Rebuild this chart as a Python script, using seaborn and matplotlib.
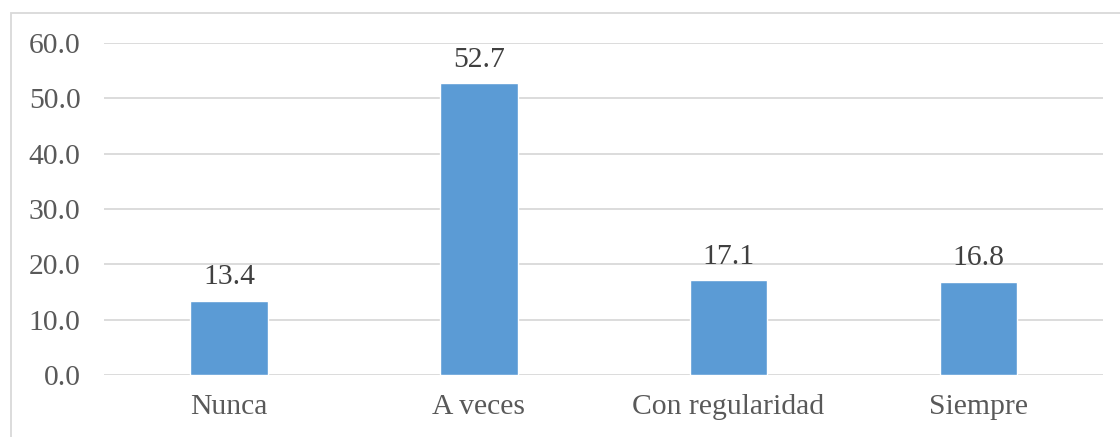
import matplotlib
matplotlib.use("Agg")
import matplotlib.pyplot as plt
import seaborn as sns
import pandas as pd
from matplotlib.patches import Rectangle

categories = ["Nunca", "A veces", "Con regularidad", "Siempre"]
values = [13.4, 52.7, 17.1, 16.8]

df = pd.DataFrame({"cat": categories, "val": values})

sns.set_style("white")
plt.rcParams["font.family"] = ["Liberation Serif", "DejaVu Serif"]

fig = plt.figure(figsize=(11.2, 4.37), dpi=100)
ax = fig.add_axes([0.093, 0.142, 0.892, 0.76])

sns.barplot(data=df, x="cat", y="val", color="#5B9BD5", width=0.31,
            saturation=1, ax=ax, zorder=3)

ax.set_ylim(0, 60)
ax.set_yticks(range(0, 61, 10))
ax.set_yticklabels([f"{v:.1f}" for v in range(0, 61, 10)])
ax.set_xlim(-0.5, 3.5)
ax.grid(axis="y", color="#D9D9D9", linewidth=1.3, zorder=0)
for s in ax.spines.values():
    s.set_visible(False)
ax.tick_params(axis="both", length=0, labelsize=21.3, colors="#595959")
ax.tick_params(axis="y", pad=17)
ax.tick_params(axis="x", pad=14)
ax.set_xlabel("")
ax.set_ylabel("")

for i, v in enumerate(values):
    ax.text(i, v + 3.0, f"{v:.1f}", ha="center", va="baseline",
            fontsize=21.3, color="#404040")

# chart border
fig.patches.append(Rectangle((0.0098, -0.05), 1.2, 1.02, transform=fig.transFigure,
                             fill=False, edgecolor="#D9D9D9", linewidth=1.3))

fig.savefig("out.png", dpi=100)
